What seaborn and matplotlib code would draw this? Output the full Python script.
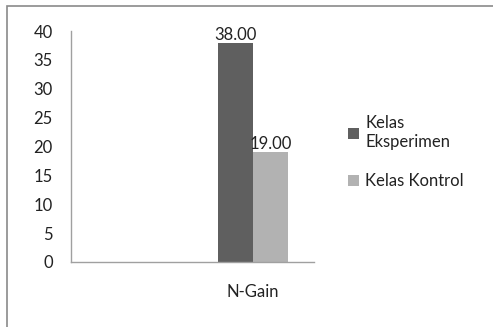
import pandas as pd
import seaborn as sns
import matplotlib.pyplot as plt
from matplotlib.patches import Rectangle

# Chart data
categories = ["N-Gain"]
groups = ["Kelas\nEksperimen", "Kelas Kontrol"]
values = [38.00, 19.00]
colors = ["#5f5f5f", "#b2b2b2"]

data = pd.DataFrame({"Kategori": categories * len(groups),
                     "Kelas": groups,
                     "Nilai": values})

sns.set_style("white")
plt.rcParams["font.family"] = ["Lato", "DejaVu Sans"]

fig = plt.figure(figsize=(4.93, 3.27), dpi=100)
ax = fig.add_axes([0.144, 0.199, 0.493, 0.706])

sns.barplot(data=data, x="Kategori", y="Nilai", hue="Kelas",
            palette=colors, width=0.8, saturation=1, linewidth=0, ax=ax)

# Value labels on the bars
for cont in ax.containers:
    ax.bar_label(cont, fmt="%.2f", fontsize=12, color="#222222", padding=0)

ax.set_xlim(-2.08, 0.70)
ax.set_ylim(0, 40)
ax.set_yticks(range(0, 41, 5))
ax.set_xlabel("")
ax.set_ylabel("")
ax.tick_params(axis="both", length=0, labelsize=12, colors="#222222")
ax.tick_params(axis="y", pad=13)
ax.tick_params(axis="x", pad=16)
ax.set_xticks([0])
ax.set_xticklabels(categories)

for side in ["top", "right"]:
    ax.spines[side].set_visible(False)
for side in ["left", "bottom"]:
    ax.spines[side].set_color("#a0a0a0")
    ax.spines[side].set_linewidth(1)

# Legend on the right
ax.legend(loc="upper left", bbox_to_anchor=(1.08, 0.70), frameon=False,
          fontsize=12, handlelength=0.65, handleheight=0.65, handletextpad=0.35,
          labelspacing=1.4, labelcolor="#222222")

# Outer chart border
fig.patches.append(Rectangle((7 / 493, -0.1), 1.2, 1 - 6 / 327 + 0.1,
                             transform=fig.transFigure, fill=False,
                             edgecolor="#8a8a8a", linewidth=1.2))

plt.savefig("out.png", dpi=100)
